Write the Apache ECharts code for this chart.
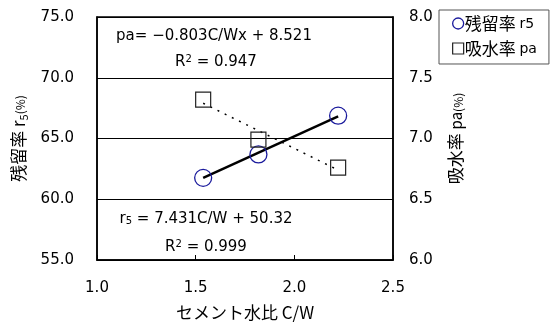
<!DOCTYPE html>
<html><head><meta charset="utf-8">
<script src="https://cdn.jsdelivr.net/npm/echarts@6/dist/echarts.min.js"></script>
<style>html,body{margin:0;padding:0;background:#fff}#c{width:553px;height:327px}</style>
</head><body><div id="c"></div>
<script>
// C/W values (W/C = 0.65, 0.55, 0.45)
const cw = [1.538, 1.818, 2.222];
const residual = [61.76, 63.69, 66.88];     // 残留率 r5 (%)
const absorption = [7.32, 6.99, 6.76];      // 吸水率 pa (%)
// trend line end points
const trendX = [1.538, 2.222];
const trendResidual = [61.75, 66.83];
const trendAbsorption = [7.29, 6.74];
const xTicks = [1.0, 1.5, 2.0, 2.5];
const leftTicks = [55, 60, 65, 70, 75];
const rightTicks = [6.0, 6.5, 7.0, 7.5, 8.0];

const FONT = "'DejaVu Sans','Noto Sans CJK JP',sans-serif";
const CJK = "'Noto Sans CJK JP','DejaVu Sans',sans-serif";
const BLUE = '#1a1a9c';
const zip = (a, b) => a.map((v, i) => [v, b[i]]);

const chart = echarts.init(document.getElementById('c'), null, {renderer: 'canvas'});
chart.setOption({
  animation: false,
  backgroundColor: '#fff',
  grid: {left: 97, right: 160, top: 17, bottom: 67, show: true, borderColor: '#000', borderWidth: 1.5, backgroundColor: 'transparent'},
  legend: {
    left: 439, top: 10, orient: 'vertical', itemGap: 8, itemWidth: 11, itemHeight: 11,
    padding: [5, 12, 7, 13],
    borderColor: '#555', borderWidth: 1, backgroundColor: '#fff',
    formatter: n => n.replace(/ (\w+)$/, ' {s|$1}'),
    textStyle: {fontFamily: CJK, fontSize: 17, color: '#000', padding: [0, 0, 0, -4], verticalAlign: 'middle',
      rich: {s: {fontFamily: FONT, fontSize: 14, color: '#000', verticalAlign: 'bottom', padding: [0, 0, 1, 0]}}},
    data: [
      {name: '残留率 r5', icon: 'circle', itemStyle: {color: '#fff', borderColor: BLUE, borderWidth: 1.3}},
      {name: '吸水率 pa', icon: 'rect', itemStyle: {color: '#fff', borderColor: '#222', borderWidth: 1.2}}
    ]
  },
  xAxis: {
    type: 'value', min: xTicks[0], max: xTicks[xTicks.length - 1], interval: 0.5,
    name: 'セメント水比 C/W', nameLocation: 'middle', nameGap: 44,
    nameTextStyle: {fontFamily: CJK, fontSize: 17, color: '#000'},
    axisLine: {show: true, lineStyle: {color: '#000', width: 1.5}},
    axisTick: {show: true, inside: true, length: 5, lineStyle: {color: '#000'}},
    axisLabel: {margin: 21, fontFamily: FONT, fontSize: 15, color: '#000', formatter: v => v.toFixed(1)},
    splitLine: {show: false}
  },
  yAxis: [{
    type: 'value', min: leftTicks[0], max: leftTicks[leftTicks.length - 1], interval: 5, position: 'left',
    name: '{c|残留率 r}{sub|5}{sm|(%)}', nameLocation: 'middle', nameGap: 63, nameRotate: 90,
    nameTextStyle: {fontFamily: CJK, fontSize: 17, color: '#000',
      rich: {c: {fontFamily: CJK, fontSize: 17, lineHeight: 20, color: '#000', verticalAlign: 'top'},
             sub: {fontFamily: CJK, fontSize: 11, lineHeight: 12, color: '#000', verticalAlign: 'top', padding: [9, 0, 0, 0]},
             sm: {fontFamily: CJK, fontSize: 12, lineHeight: 13, color: '#000', verticalAlign: 'top', padding: [5, 0, 0, 0]}}},
    axisLine: {show: true, lineStyle: {color: '#000', width: 1.5}},
    axisTick: {show: true, inside: true, length: 4, lineStyle: {color: '#000'}},
    axisLabel: {margin: 23, fontFamily: FONT, fontSize: 15, color: '#000', formatter: v => v.toFixed(1)},
    splitLine: {show: true, lineStyle: {color: '#000', width: 1}}
  }, {
    type: 'value', min: rightTicks[0], max: rightTicks[rightTicks.length - 1], interval: 0.5, position: 'right',
    name: '{c|吸水率 }{m|pa}{sm|(%)}', nameLocation: 'middle', nameGap: 54, nameRotate: 90,
    nameTextStyle: {fontFamily: CJK, fontSize: 17, color: '#000',
      rich: {c: {fontFamily: CJK, fontSize: 17, lineHeight: 20, color: '#000', verticalAlign: 'top'},
             m: {fontFamily: CJK, fontSize: 15, lineHeight: 17, color: '#000', verticalAlign: 'top', padding: [2, 0, 0, 0]},
             sm: {fontFamily: CJK, fontSize: 12, lineHeight: 13, color: '#000', verticalAlign: 'top', padding: [5, 0, 0, 0]}}},
    axisLine: {show: true, lineStyle: {color: '#000', width: 1.5}},
    axisTick: {show: true, inside: true, length: 4, lineStyle: {color: '#000'}},
    axisLabel: {margin: 16, fontFamily: FONT, fontSize: 15, color: '#000', formatter: v => v.toFixed(1)},
    splitLine: {show: false}
  }],
  series: [
    {name: 'trend r5', type: 'line', data: zip(trendX, trendResidual), showSymbol: false, symbol: 'none',
     lineStyle: {color: '#000', width: 2.5}, z: 3, silent: true},
    {name: 'trend pa', type: 'line', yAxisIndex: 1, data: zip(trendX, trendAbsorption), showSymbol: false, symbol: 'none',
     lineStyle: {color: '#000', width: 1.5, type: [2, 6]}, z: 3, silent: true},
    {name: '残留率 r5', type: 'scatter', data: zip(cw, residual), symbol: 'circle', symbolSize: 17,
     itemStyle: {color: 'rgba(0,0,0,0)', borderColor: BLUE, borderWidth: 1.3, opacity: 1}, z: 4},
    {name: '吸水率 pa', type: 'scatter', yAxisIndex: 1, data: zip(cw, absorption), symbol: 'rect', symbolSize: 15,
     itemStyle: {color: 'rgba(0,0,0,0)', borderColor: '#222', borderWidth: 1.2, opacity: 1}, z: 4}
  ],
  graphic: [
    {type: 'text', x: 214, y: 36, z: 10, style: {text: 'pa= −0.803C/Wx + 8.521', font: '15px ' + FONT, fill: '#000', align: 'center', verticalAlign: 'middle'}},
    {type: 'text', x: 216, y: 62, z: 10, style: {text: 'R{sup|2} = 0.947', font: '15px ' + FONT, fill: '#000', align: 'center', verticalAlign: 'middle',
      rich: {sup: {fontSize: 10, fontFamily: FONT, fill: '#000', verticalAlign: 'top'}}}},
    {type: 'text', x: 206, y: 219, z: 10, style: {text: 'r{sub|5} = 7.431C/W + 50.32', font: '15px ' + FONT, fill: '#000', align: 'center', verticalAlign: 'middle',
      rich: {sub: {fontSize: 10, fontFamily: FONT, fill: '#000', verticalAlign: 'bottom'}}}},
    {type: 'text', x: 206, y: 247, z: 10, style: {text: 'R{sup|2} = 0.999', font: '15px ' + FONT, fill: '#000', align: 'center', verticalAlign: 'middle',
      rich: {sup: {fontSize: 10, fontFamily: FONT, fill: '#000', verticalAlign: 'top'}}}}
  ]
});
</script></body></html>
